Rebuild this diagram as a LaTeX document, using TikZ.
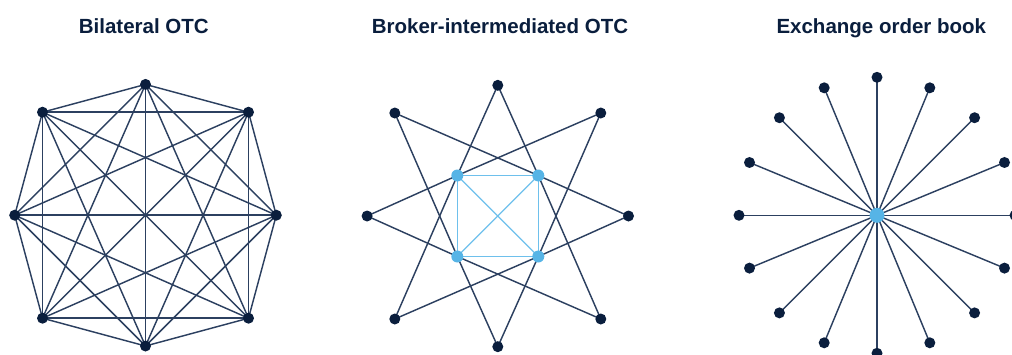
\documentclass[tikz,border=0pt]{standalone}
\usepackage{fontspec}
\setmainfont{Liberation Sans}
\usetikzlibrary{calc}
\definecolor{navy}{RGB}{10,30,61}
\definecolor{edgecol}{RGB}{44,64,96}
\definecolor{skyblue}{RGB}{86,180,230}
\definecolor{skyline}{RGB}{110,192,236}
\pgfdeclarelayer{bg}
\pgfsetlayers{bg,main}
\tikzset{
  title/.style={anchor=base, text=navy, font=\fontsize{20.5}{24}\selectfont\bfseries, inner sep=0pt},
  dot/.style={circle, fill=navy, inner sep=0pt, minimum size=11pt},
  bdot/.style={circle, fill=skyblue, inner sep=0pt, minimum size=12pt},
  hub/.style={circle, fill=skyblue, inner sep=0pt, minimum size=15pt},
  link/.style={draw=edgecol, line width=1.45pt},
  blink/.style={draw=skyline, line width=1.3pt}
}
\begin{document}
\begin{tikzpicture}[x=1pt,y=-1pt]
\useasboundingbox (0,0) rectangle (1012,354);
% titles
\node[title] (t1) at (143.8,33.3) {Bilateral OTC};
\node[title] (t2) at (500,33.3) {Broker-intermediated OTC};
\node[title] (t3) at (881.3,33.3) {Exchange order book};

% ---------- Panel 1: bilateral (complete graph) ----------
\coordinate (c1) at (145.5,215.2);
\foreach \dx/\dy [count=\n] in {0/-130.8, 103/-103, 130.8/0, 103/103, 0/130.8, -103/103, -130.8/0, -103/-103}
  \node[dot] (a\n) at ($(c1)+(\dx,\dy)$) {};
\begin{pgfonlayer}{bg}
\foreach \i in {1,...,7}{
  \pgfmathtruncatemacro\k{\i+1}
  \foreach \j in {\k,...,8}{\draw[link] (a\i.center) -- (a\j.center);}
}
\end{pgfonlayer}

% ---------- Panel 2: broker-intermediated ----------
\coordinate (c2) at (497.8,216);
% outer: 1 top, 2 TR, 3 right, 4 BR, 5 bottom, 6 BL, 7 left, 8 TL
\foreach \dx/\dy [count=\n] in {0/-130.7, 103/-103, 130.7/0, 103/103, 0/130.7, -103/103, -130.7/0, -103/-103}
  \node[dot] (b\n) at ($(c2)+(\dx,\dy)$) {};
\node[bdot] (qTL) at ($(c2)+(-40.5,-40.5)$) {};
\node[bdot] (qTR) at ($(c2)+(40.5,-40.5)$) {};
\node[bdot] (qBR) at ($(c2)+(40.5,40.5)$) {};
\node[bdot] (qBL) at ($(c2)+(-40.5,40.5)$) {};
\begin{pgfonlayer}{bg}
\draw[link] (b1.center) -- (qTL.center) -- (b6.center);
\draw[link] (b1.center) -- (qTR.center) -- (b4.center);
\draw[link] (b8.center) -- (qTR.center) -- (b3.center);
\draw[link] (b8.center) -- (qBL.center) -- (b5.center);
\draw[link] (b2.center) -- (qTL.center) -- (b7.center);
\draw[link] (b2.center) -- (qBR.center) -- (b5.center);
\draw[link] (b7.center) -- (qBL.center) -- (b4.center);
\draw[link] (b3.center) -- (qBR.center) -- (b6.center);
\draw[blink] (qTL.center) -- (qTR.center) -- (qBR.center) -- (qBL.center) -- cycle;
\draw[blink] (qTL.center) -- (qBR.center);
\draw[blink] (qTR.center) -- (qBL.center);
\end{pgfonlayer}

% ---------- Panel 3: exchange order book ----------
\node[hub] (h) at (877,215.3) {};
\foreach \a [count=\n] in {0,22.5,...,337.5}{
  \node[dot] (e\n) at ($(h.center)+(\a:138)$) {};
  \begin{pgfonlayer}{bg}
  \draw[link] (h.center) -- (e\n.center);
  \end{pgfonlayer}
}
\end{tikzpicture}
\end{document}
